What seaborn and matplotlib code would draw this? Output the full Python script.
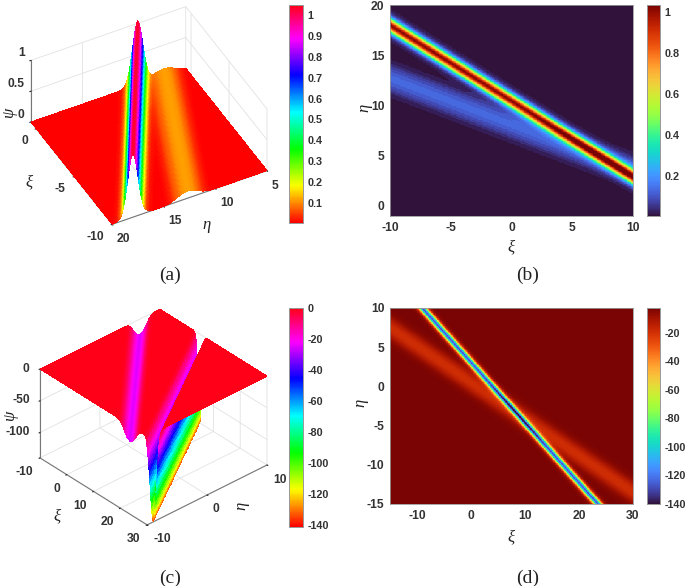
import matplotlib
matplotlib.use("Agg")
import matplotlib.pyplot as plt
from matplotlib.cm import ScalarMappable
from matplotlib.colors import Normalize
from mpl_toolkits.mplot3d import proj3d
import seaborn as sns
import pandas as pd
import numpy as np

sns.set_style("white")
plt.rcParams['font.family'] = ['Liberation Sans', 'DejaVu Sans']
plt.rcParams['font.weight'] = 'bold'
plt.rcParams['axes.unicode_minus'] = False

W, H = 685, 586
TEXT = '#333333'

# cross sections of the ridges
main_offset = [0, 0.2, 0.4, 0.6, 0.8, 1.0, 1.2, 1.5, 2.0]
main_shape = [1.0, 0.9, 0.71, 0.48, 0.28, 0.14, 0.06, 0.015, 0.0]
side_offset = [0, 0.5, 1.0, 1.5, 2.0, 2.5]
side_shape = [1.0, 0.9, 0.6, 0.25, 0.05, 0.0]

# (ξ ends, η of main ridge, η of side ridge, heights)
a_xi = [-10, 0]
a_main_eta = [18.0, 10.2]
a_side_eta = [12.7, 7.5]
a_main_h, a_side_h = 1.05, 0.115
a_ticks_xi = [-10, -5, 0]
a_ticks_eta = [5, 10, 15, 20]
a_ticks_z = [0, 0.5, 1]
a_cbar_ticks = [0.1, 0.2, 0.3, 0.4, 0.5, 0.6, 0.7, 0.8, 0.9, 1]

b_xi = [-10, 10]
b_main_eta = [18.0, 2.9]
b_side_eta = [12.7, 3.5]
b_main_h, b_side_h = 1.03, 0.13
b_ticks_xi = [-10, -5, 0, 5, 10]
b_ticks_eta = [0, 5, 10, 15, 20]
b_cbar_ticks = [0.2, 0.4, 0.6, 0.8, 1]

c_xi = [5, 30]
c_main_eta = [10.0, -9.0]
c_side_xi = [-10, 23.6]
c_side_eta = [6.7, -10.0]
c_main_h, c_side_h = -140, -25
c_ticks_xi = [-10, 0, 10, 20, 30]
c_ticks_eta = [-10, 0, 10]
c_ticks_z = [-100, -50, 0]
c_cbar_ticks = [-140, -120, -100, -80, -60, -40, -20, 0]

d_xi = [-9, 23.5]
d_main_eta = [10.0, -15.0]
d_side_xi = [-15, 30]
d_side_eta = [7.5, -13.5]
d_main_h, d_side_h = -125, -16
d_ticks_xi = [-10, 0, 10, 20, 30]
d_ticks_eta = [-15, -10, -5, 0, 5, 10]
d_cbar_ticks = [-140, -120, -100, -80, -60, -40, -20]


def line_eta(xi, xs, etas):
    slope = (etas[1] - etas[0]) / (xs[1] - xs[0])
    return etas[0] + slope * (xi - xs[0])


def field(xi, eta, main, side, main_h, side_h, main_width=1.0, side_width=1.0):
    X, Y = np.meshgrid(xi, eta)
    d1 = np.abs(Y - line_eta(X, *main)) / main_width
    d2 = np.abs(Y - line_eta(X, *side)) / side_width
    return main_h * np.interp(d1, main_offset, main_shape) + side_h * np.interp(d2, side_offset, side_shape)


def px_axes(x0, y0, x1, y1):
    return fig.add_axes([x0 / W, 1 - y1 / H, (x1 - x0) / W, (y1 - y0) / H])


def style_cbar(cax, ticks):
    cax.set_yticks(ticks)
    cax.set_yticklabels([str(t) for t in ticks])
    cax.tick_params(axis='y', labelsize=7.8, length=1.5, width=0.5, direction='in', pad=3,
                    labelcolor=TEXT, right=True, left=False, labelright=True, labelleft=False)
    for s in cax.spines.values():
        s.set_visible(True)
        s.set_color('#999999')
        s.set_linewidth(0.6)


def corner_px(ax, x, y, z):
    px, py, _ = proj3d.proj_transform(x, y, z, ax.get_proj())
    return ax.transData.transform((px, py))


def fit_box(ax, aspect, c1, c2, p1, p2):
    # move and scale the box so two of its corners land on the given pixels
    ax.set_box_aspect(aspect, zoom=1.0)
    ax.apply_aspect()
    a, b = corner_px(ax, *c1), corner_px(ax, *c2)
    zoom = (p2[0] - p1[0]) / (b[0] - a[0])
    ax.set_box_aspect(aspect, zoom=zoom)
    a = corner_px(ax, *c1)
    pos = ax.get_position(original=True)
    dx = (p1[0] - a[0]) / W
    dy = ((H - p1[1]) - a[1]) / H
    ax.set_position([pos.x0 + dx, pos.y0 + dy, pos.width, pos.height])
    ax.apply_aspect()


def surface_panel(box, X, Y, Z, vmin, vmax, elev, azim, aspect, lims, ticks, c1, c2, p1, p2, zside, zva, zpad):
    ax = fig.add_axes(box, projection='3d', proj_type='ortho')
    ax.patch.set_alpha(0)
    ax.view_init(elev=elev, azim=azim)
    ax.plot_surface(X, Y, Z, cmap='hsv', vmin=vmin, vmax=vmax, rcount=Z.shape[0], ccount=Z.shape[1],
                    linewidth=0, antialiased=False, shade=False)
    ax.set_xlim(*lims[0], view_margin=0)
    ax.set_ylim(*lims[1], view_margin=0)
    ax.set_zlim(*lims[2], view_margin=0)
    ax.set_xticks(ticks[0])
    ax.set_yticks(ticks[1])
    ax.set_zticks(ticks[2])
    ax.set_zticklabels([f'{t:g}' for t in ticks[2]])
    for axis in (ax.xaxis, ax.yaxis, ax.zaxis):
        axis.set_pane_color((1, 1, 1, 0))
        axis.pane.set_edgecolor('#dddddd')
        axis.line.set_color('#777777')
        axis._axinfo['grid'].update(color='#e2e2e2', linewidth=0.6)
        axis._axinfo['tick'].update(inward_factor=0.1, outward_factor=0.0)
    ax.zaxis.set_ticks_position(zside)
    ax.tick_params(labelsize=8.7, labelcolor=TEXT, pad=-2)
    ax.tick_params(axis='z', pad=zpad)
    plt.setp(ax.get_xticklabels(), ha='right')
    plt.setp(ax.get_yticklabels(), ha='left')
    plt.setp(ax.get_zticklabels(), ha='right', va=zva)
    fit_box(ax, aspect, c1, c2, p1, p2)
    return ax


fig = plt.figure(figsize=(W / 100, H / 100), dpi=100)

# (a)
xi_a = np.linspace(-10, 0.7, 170)
eta_a = np.linspace(5, 20, 260)
Xa, Ya = np.meshgrid(xi_a, eta_a)
Za = field(xi_a, eta_a, (a_xi, a_main_eta), (a_xi, a_side_eta), a_main_h, a_side_h)
surface_panel([0.0, 0.5, 0.5, 0.5], Xa, Ya, Za, 0.0, 1.05, 41.4, 152.3, (1, 1, 0.47),
              [(-10, 0.7), (5, 20), (0, 1)], [a_ticks_xi, a_ticks_eta, a_ticks_z],
              (0.7, 20, 0), (-10, 5, 0), (31, 122), (267, 170), 'upper', 'bottom', -5)
cax = px_axes(289, 5, 303, 223)
fig.colorbar(ScalarMappable(Normalize(0.004, 1.048), 'hsv'), cax=cax)
style_cbar(cax, a_cbar_ticks)

# (c)
xi_c = np.linspace(-10, 30, 220)
eta_c = np.linspace(-10, 10, 220)
Xc, Yc = np.meshgrid(xi_c, eta_c)
Zc = field(xi_c, eta_c, (c_xi, c_main_eta), (c_side_xi, c_side_eta), c_main_h, c_side_h)
surface_panel([0.0, 0.0, 0.5, 0.5], Xc, Yc, Zc, -140, 0, 34.0, -41.8, (1, 1, 0.667),
              [(-10, 30), (-10, 10), (-140, 0)], [c_ticks_xi, c_ticks_eta, c_ticks_z],
              (-10, -10, 0), (30, 10, 0), (40, 369), (267, 375), 'lower', 'center', -3)
cax = px_axes(289, 308, 303, 527)
fig.colorbar(ScalarMappable(Normalize(-141, 0), 'hsv'), cax=cax)
style_cbar(cax, c_cbar_ticks)


def heat_panel(box, cbox, Z, xlim, ylim, vmin, vmax, xticks, yticks, cticks):
    ax = px_axes(*box)
    cax = px_axes(*cbox)
    df = pd.DataFrame(Z)
    sns.heatmap(df, ax=ax, cbar_ax=cax, cmap='turbo', vmin=vmin, vmax=vmax, xticklabels=False, yticklabels=False)
    ax.invert_yaxis()
    nr, nc = Z.shape
    ax.set_xticks([(t - xlim[0]) / (xlim[1] - xlim[0]) * nc for t in xticks])
    ax.set_yticks([(t - ylim[0]) / (ylim[1] - ylim[0]) * nr for t in yticks])
    ax.set_xticklabels([str(t) for t in xticks])
    ax.set_yticklabels([str(t) for t in yticks], rotation=0)
    ax.tick_params(labelsize=8.7, labelcolor=TEXT, length=0, pad=4)
    for s in ax.spines.values():
        s.set_visible(True)
        s.set_color('#999999')
        s.set_linewidth(0.6)
    style_cbar(cax, cticks)
    return ax


# (b)
xi_b = np.linspace(-10, 10, 300)
eta_b = np.linspace(-1, 20, 300)
Zb = field(xi_b, eta_b, (b_xi, b_main_eta), (b_xi, b_side_eta), b_main_h, b_side_h)
Zb = np.where(Zb < 0.15, np.round(Zb / 0.022) * 0.022, Zb)  # contour steps at the low end
heat_panel((390, 5, 633, 216), (647, 5, 660, 216), Zb, (-10, 10), (-1, 20), 0.005, 1.034,
           b_ticks_xi, b_ticks_eta, b_cbar_ticks)

# (d)
xi_d = np.linspace(-15, 30, 400)
eta_d = np.linspace(-15, 10, 300)
Zd = field(xi_d, eta_d, (d_xi, d_main_eta), (d_side_xi, d_side_eta), d_main_h, d_side_h, main_width=0.85, side_width=1.0)
Zd = Zd - 3
heat_panel((390, 308, 633, 504), (647, 308, 660, 504), Zd, (-15, 30), (-15, 10), -140, -2.5,
           d_ticks_xi, d_ticks_eta, d_cbar_ticks)

# axis names and captions
serif = dict(family='Liberation Serif', fontweight='normal', color='#222222')
names = [('ξ', 29, 182, 0), ('η', 207, 225, 0), ('ψ', 9, 113, 90),
         ('ξ', 511, 247, 0), ('η', 364, 108, 90),
         ('ξ', 57, 516, 0), ('η', 241, 506, 90), ('ψ', 10, 416, 90),
         ('ξ', 511, 537, 0), ('η', 360, 403, 90)]
for s, x, y, rot in names:
    fig.text(x / W, 1 - y / H, s, fontsize=12, style='italic', rotation=rot, ha='center', va='center', **serif)
for s, x, y in [('(a)', 170, 275), ('(b)', 528, 275), ('(c)', 170, 578), ('(d)', 528, 578)]:
    fig.text(x / W, 1 - y / H, s, fontsize=14, ha='center', va='center', **serif)

fig.savefig('out.png', dpi=100)
